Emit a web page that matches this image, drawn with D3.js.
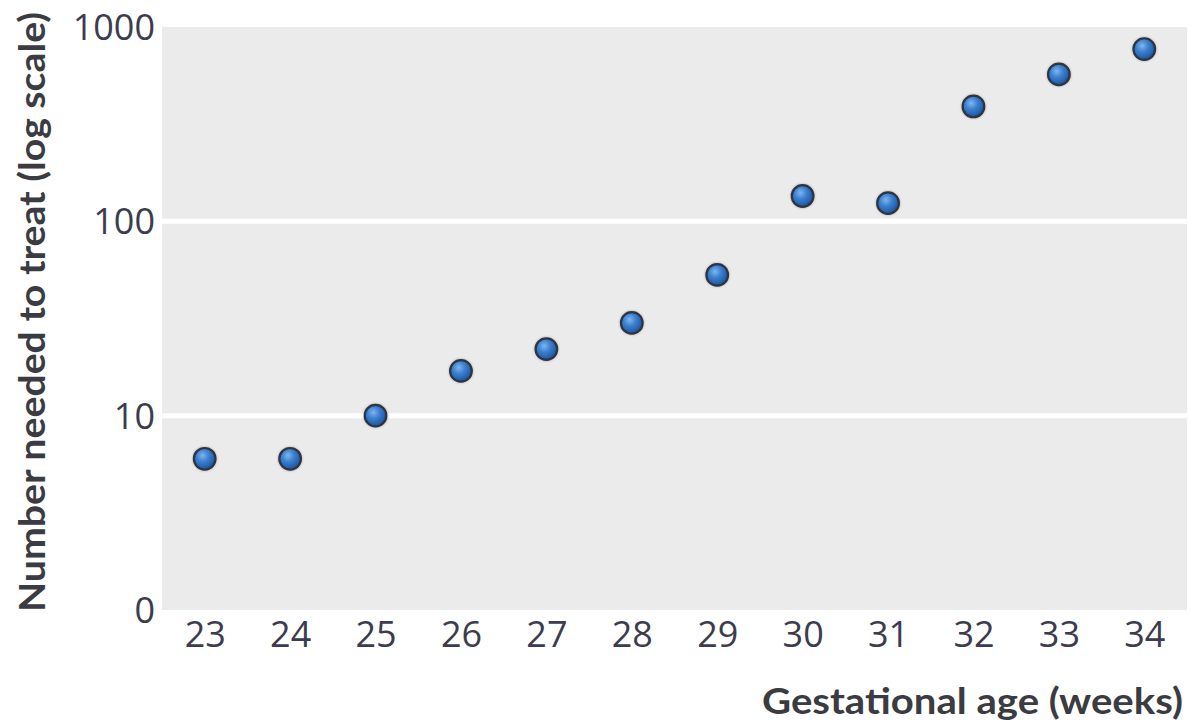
<!DOCTYPE html>
<html>
<head>
<meta charset="utf-8">
<script src="https://cdn.jsdelivr.net/npm/d3@7"></script>
<style>
  html, body { margin: 0; padding: 0; background: #ffffff; }
  svg { display: block; }
</style>
</head>
<body>
<svg id="chart" width="1190" height="724"></svg>
<script>
// Gestational age (weeks) and number needed to treat at each week
const weeks = [23, 24, 25, 26, 27, 28, 29, 30, 31, 32, 33, 34];
const nnt = [6, 6, 10, 17, 22, 30, 53, 135, 124, 390, 570, 770];

// Log-axis ticks and the labels printed next to them
const yTickValues = [1, 10, 100, 1000];
const yTickLabels = ["0", "10", "100", "1000"];

const svg = d3.select("#chart");
const plot = { left: 162, right: 1187, top: 27, bottom: 610 };

const x = d3.scalePoint()
  .domain(weeks)
  .range([plot.left, plot.right])
  .padding(0.5);

const y = d3.scaleLog()
  .domain([1, 1000])
  .range([plot.bottom, plot.top]);

const defs = svg.append("defs");
const grad = defs.append("radialGradient")
  .attr("id", "ball")
  .attr("cx", "40%").attr("cy", "35%").attr("r", "65%");
grad.append("stop").attr("offset", "0%").attr("stop-color", "#7fb6ee");
grad.append("stop").attr("offset", "45%").attr("stop-color", "#3a7fd0");
grad.append("stop").attr("offset", "100%").attr("stop-color", "#1d559f");

const soft = defs.append("filter").attr("id", "soft")
  .attr("x", "-50%").attr("y", "-50%").attr("width", "200%").attr("height", "200%");
soft.append("feGaussianBlur").attr("in", "SourceAlpha").attr("stdDeviation", 1.2).attr("result", "b");
soft.append("feFlood").attr("flood-color", "#555").attr("flood-opacity", 0.5);
soft.append("feComposite").attr("in2", "b").attr("operator", "in").attr("result", "s");
const merge = soft.append("feMerge");
merge.append("feMergeNode").attr("in", "s");
merge.append("feMergeNode").attr("in", "SourceGraphic");

// Plot background
svg.append("rect")
  .attr("x", plot.left).attr("y", plot.top)
  .attr("width", plot.right - plot.left)
  .attr("height", plot.bottom - plot.top)
  .attr("fill", "#ebebeb");

// Horizontal white gridlines at interior decades
svg.append("g")
  .selectAll("line")
  .data([10, 100])
  .join("line")
  .attr("x1", plot.left).attr("x2", plot.right)
  .attr("y1", d => y(d)).attr("y2", d => y(d))
  .attr("stroke", "#ffffff")
  .attr("stroke-width", 5);

// Y axis (labels only)
const yAxis = d3.axisLeft(y)
  .tickValues(yTickValues)
  .tickFormat((d, i) => yTickLabels[i])
  .tickSize(0)
  .tickPadding(7);
const gy = svg.append("g")
  .attr("transform", `translate(${plot.left},0)`)
  .call(yAxis);
gy.select(".domain").remove();
gy.selectAll("text")
  .attr("font-family", "'Open Sans', sans-serif")
  .attr("font-weight", 400)
  .attr("font-size", 36)
  .attr("fill", "#3c3c4e")
  .attr("dy", "0.35em");

// X axis (labels only)
const xAxis = d3.axisBottom(x).tickSize(0).tickPadding(11);
const gx = svg.append("g")
  .attr("transform", `translate(0,${plot.bottom})`)
  .call(xAxis);
gx.select(".domain").remove();
gx.selectAll("text")
  .attr("font-family", "'Open Sans', sans-serif")
  .attr("font-weight", 400)
  .attr("font-size", 36)
  .attr("fill", "#3c3c4e");

// Data points
svg.append("g")
  .selectAll("circle")
  .data(weeks.map((w, i) => ({ w, v: nnt[i] })))
  .join("circle")
  .attr("cx", d => x(d.w))
  .attr("cy", d => y(d.v))
  .attr("r", 10.8)
  .attr("fill", "url(#ball)")
  .attr("stroke", "#2e3440")
  .attr("stroke-width", 2.2)
  .attr("filter", "url(#soft)");

// Axis titles
svg.append("text")
  .attr("x", 1183).attr("y", 714)
  .attr("text-anchor", "end")
  .attr("font-family", "Lato, 'Open Sans', sans-serif")
  .attr("font-weight", 700)
  .attr("font-size", 36)
  .attr("fill", "#3b3b42")
  .attr("textLength", 421)
  .attr("lengthAdjust", "spacingAndGlyphs")
  .text("Gestational age (weeks)");

svg.append("text")
  .attr("transform", "translate(45,312) rotate(-90)")
  .attr("text-anchor", "middle")
  .attr("font-family", "Lato, 'Open Sans', sans-serif")
  .attr("font-weight", 700)
  .attr("font-size", 36)
  .attr("fill", "#3b3b42")
  .attr("textLength", 600)
  .attr("lengthAdjust", "spacingAndGlyphs")
  .text("Number needed to treat (log scale)");
</script>
</body>
</html>
